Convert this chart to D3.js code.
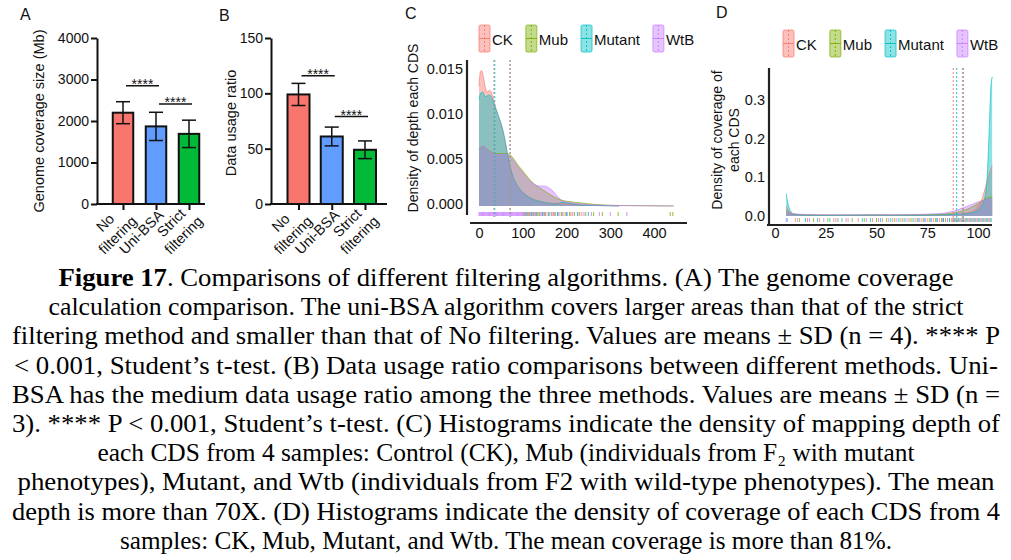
<!DOCTYPE html>
<html><head><meta charset="utf-8">
<script src="https://cdn.jsdelivr.net/npm/d3@7"></script>
<style>body{margin:0;background:#fff}svg{display:block}</style>
</head><body>
<svg id="fig" width="1011" height="560"></svg>
<script>
// ---------------- DATA ----------------
const methods = ["No filtering", "Uni-BSA", "Strict filtering"];
const methodLines = [["No", "filtering"], ["Uni-BSA"], ["Strict", "filtering"]];
const coverageMean = [2200, 1870, 1690];
const coverageSD = [265, 340, 330];
const coverageTicks = [0, 1000, 2000, 3000, 4000];
const coverageSig = [2850, 2410];          // bracket heights (Mb)
const usageMean = [99, 61, 49];
const usageSD = [10, 8.5, 8];
const usageTicks = [0, 50, 100, 150];
const usageSig = [116, 79];
const sigPairs = [[0, 1], [1, 2]];
const sigLabel = "****";
const barColors = ["#F8766D", "#619CFF", "#00BA38"];

const samples = ["CK", "Mub", "Mutant", "WtB"];
const sampleColors = ["#F8766D", "#7CAE00", "#00BFC4", "#C77CFF"];

// Panel C: density of depth (x = depth, y = density)
const depthCK = [[0,0.0133],[3,0.0148],[6,0.015],[10,0.0143],[14,0.0132],[19,0.0126],[24,0.0128],[28,0.0126],[33,0.0118],[38,0.0109],[44,0.0100],[50,0.0091],[56,0.0080],[62,0.0065],[68,0.0049],[75,0.0036],[85,0.0024],[95,0.0017],[110,0.0011],[125,0.0007],[140,0.0005],[160,0.0003],[180,0.0003],[200,0.0002],[230,0.0001],[270,0.00005],[320,0]];
const depthMub = [[0,0.0062],[5,0.0065],[10,0.0066],[16,0.0064],[24,0.0061],[32,0.0059],[42,0.0058],[52,0.0058],[62,0.0058],[70,0.0057],[78,0.0053],[88,0.0046],[98,0.0040],[108,0.0034],[118,0.0028],[130,0.0023],[142,0.0019],[155,0.0015],[168,0.0011],[180,0.0008],[192,0.0006],[205,0.0005],[220,0.0004],[240,0.0003],[260,0.0002],[290,0.0001],[330,0.00005],[400,0.00002],[445,0]];
const depthMutant = [[0,0.0118],[4,0.0125],[9,0.0126],[14,0.0121],[19,0.0122],[24,0.0123],[28,0.0121],[33,0.0115],[38,0.0108],[44,0.0100],[50,0.0092],[56,0.0081],[62,0.0066],[68,0.0050],[75,0.0037],[85,0.0025],[95,0.0018],[110,0.0011],[125,0.0007],[140,0.0005],[160,0.0003],[175,0.0002],[190,0.0004],[205,0.0003],[230,0.0001],[270,0.00005],[320,0]];
const depthWtB = [[0,0.0063],[5,0.0066],[10,0.0066],[16,0.0064],[24,0.0061],[32,0.0058],[42,0.0057],[52,0.0057],[62,0.0057],[70,0.0055],[78,0.0051],[88,0.0044],[98,0.0038],[108,0.0032],[118,0.0027],[130,0.0023],[140,0.0022],[150,0.0022],[160,0.0020],[170,0.0016],[180,0.0010],[190,0.0006],[205,0.0004],[220,0.0003],[240,0.0002],[270,0.0001],[320,0.00005],[400,0.00002],[445,0]];
const depthMeans = [34, 71.5, 36, 70.5];
const depthTicksX = [0, 100, 200, 300, 400];
const depthTicksY = [0, 0.005, 0.010, 0.015];
const depthRugCK = [105,115,125,135,150,170,190,210,235];
const depthRugMub = [101,105,109,114,119,125,131,138,144,151,158,165,172,180,188,197,207,218,230,244,262,282,318,437,443];
const depthRugMutant = [110,120,130,145,160,180,200,225,250];
const depthRugWtB = [0,2,4,6,8,10,12,14,16,18,20,22,24,26,28,30,32,34,36,38,40,42,44,46,48,50,52,54,56,58,60,62,64,66,68,70,72,74,76,78,80,82,84,86,88,90,92,94,96,98,100,103,107,112,117,122,128,134,141,147,153,160,167,175,183,192,202,214,226,240,257,275,300,338];

// Panel D: density of coverage (x = coverage %, y = density)
const covCK = [[5.5,0.025],[7,0.012],[9,0.005],[12,0.003],[20,0.002],[30,0.002],[40,0.002],[50,0.003],[60,0.002],[70,0.002],[80,0.003],[88,0.004],[94,0.007],[98,0.013],[100,0.025],[102,0.045],[104,0.08],[105.5,0.11],[107,0.13]];
const covMub = [[5.5,0.015],[7,0.008],[9,0.005],[15,0.003],[30,0.002],[50,0.002],[70,0.003],[80,0.004],[88,0.008],[94,0.016],[98,0.026],[101,0.035],[104,0.045],[107,0.05]];
const covMutant = [[5.5,0.058],[6.5,0.03],[8,0.01],[10,0.004],[15,0.002],[25,0.0015],[35,0.002],[45,0.0025],[55,0.002],[65,0.002],[75,0.002],[82,0.003],[88,0.004],[94,0.006],[98,0.01],[101,0.02],[103,0.04],[104.5,0.1],[105.5,0.22],[106.3,0.33],[107,0.36]];
const covWtB = [[5.5,0.012],[7,0.008],[9,0.006],[15,0.004],[25,0.003],[40,0.003],[55,0.003],[70,0.004],[80,0.006],[86,0.01],[90,0.016],[94,0.024],[98,0.032],[101,0.038],[104,0.042],[107,0.044]];
const covMeans = [87.8, 92.8, 89.5, 92.3];
const covTicksX = [0, 25, 50, 75, 100];
const covTicksY = [0, 0.1, 0.2, 0.3];
const covRugCK = [10,16,22,29,35,41,48,53,58,62,66,69,72,75,78,81,83,85,87,89,91,93,95,97,99,101,103,105];
const covRugMub = [12,19,26,31,38,44,50,55,59,63,67,70,73,76,79,82,84,86,88,90,92,94,96,98,100,102,104,106];
const covRugMutant = [6,15,21,27,33,43,47,52,57,61,64,68,71,74,77,80,83,86,88.5,90.5,92.5,94.5,96.5,98.5,100.5,102.5,104.5,106.5];
const covRugWtB = [5.5,11,17,24,30,36,45,51,56,60,65,70.5,73.5,76.5,79.5,82.5,85,87.5,89.5,91.5,93.5,95.5,97.5,99.5,101.5,103.5,105.5];

const captionLines = [
  "Figure 17. Comparisons of different filtering algorithms. (A) The genome coverage",
  "calculation comparison. The uni-BSA algorithm covers larger areas than that of the strict",
  "filtering method and smaller than that of No filtering. Values are means ± SD (n = 4). **** P",
  "< 0.001, Student’s t-test. (B) Data usage ratio comparisons between different methods. Uni-",
  "BSA has the medium data usage ratio among the three methods. Values are means ± SD (n =",
  "3). **** P < 0.001, Student’s t-test. (C) Histograms indicate the density of mapping depth of",
  "each CDS from 4 samples: Control (CK), Mub (individuals from F₂ with mutant",
  "phenotypes), Mutant, and Wtb (individuals from F2 with wild-type phenotypes). The mean",
  "depth is more than 70X. (D) Histograms indicate the density of coverage of each CDS from 4",
  "samples: CK, Mub, Mutant, and Wtb. The mean coverage is more than 81%."
];
const captionBold = "Figure 17";
const captionWidths = [895, 915, 988, 984, 988, 988, 817, 977, 988, 772];

// ---------------- DRAWING ----------------
const svg = d3.select("#fig");
const SANS = '"Liberation Sans", Arial, Helvetica, sans-serif';
const SERIF = '"Liberation Serif", "Times New Roman", serif';
const INK = "#111";

function panelLetter(t, x, y) {
  svg.append("text").attr("x", x).attr("y", y).attr("font-family", SANS)
    .attr("font-size", 16).attr("fill", INK).text(t);
}

function barPanel(cfg) {
  const g = svg.append("g");
  const y = d3.scaleLinear().domain([0, cfg.ticks[cfg.ticks.length - 1]]).range([cfg.yBottom, cfg.yTop]);
  const x = d3.scalePoint().domain(methods).range(cfg.xRange);

  g.selectAll("rect.bar").data(methods).join("rect")
    .attr("x", m => x(m) - cfg.barW / 2)
    .attr("y", (m, i) => y(cfg.mean[i]))
    .attr("width", cfg.barW)
    .attr("height", (m, i) => y(0) - y(cfg.mean[i]))
    .attr("fill", (m, i) => barColors[i])
    .attr("stroke", INK).attr("stroke-width", 2);

  methods.forEach((m, i) => {
    const cx = x(m), lo = y(cfg.mean[i] - cfg.sd[i]), hi = y(cfg.mean[i] + cfg.sd[i]);
    g.append("line").attr("x1", cx).attr("x2", cx).attr("y1", lo).attr("y2", hi)
      .attr("stroke", INK).attr("stroke-width", 1.5);
    [lo, hi].forEach(v => g.append("line").attr("x1", cx - 7).attr("x2", cx + 7)
      .attr("y1", v).attr("y2", v).attr("stroke", INK).attr("stroke-width", 1.5));
  });

  const ya = g.append("g").attr("transform", `translate(${cfg.axisX},0)`)
    .call(d3.axisLeft(y).tickValues(cfg.ticks).tickSize(6).tickSizeOuter(0).tickPadding(2)
      .tickFormat(d3.format("d")));
  ya.select(".domain").attr("stroke", INK).attr("stroke-width", 2);
  ya.selectAll(".tick line").attr("stroke", INK).attr("stroke-width", 2);
  ya.selectAll(".tick text").attr("font-family", SANS).attr("font-size", 14).attr("fill", INK);

  const xa = g.append("g").attr("transform", `translate(0,${cfg.yBottom})`)
    .call(d3.axisBottom(x).tickSize(6).tickSizeOuter(0).tickFormat(""));
  xa.select(".domain").remove();
  xa.selectAll(".tick line").attr("stroke", INK).attr("stroke-width", 2);
  g.append("line").attr("x1", cfg.axisX - 1).attr("x2", cfg.xEnd)
    .attr("y1", cfg.yBottom).attr("y2", cfg.yBottom).attr("stroke", INK).attr("stroke-width", 2);

  methods.forEach((m, i) => {
    const lg = g.append("g").attr("transform", `translate(${x(m)},${cfg.yBottom + 2}) rotate(-45)`);
    const lines = methodLines[i];
    const ts = lines.map((s, k) => lg.append("text").attr("font-family", SANS)
      .attr("font-size", 14.5).attr("fill", INK).attr("text-anchor", "middle")
      .attr("y", 8 + (k - (lines.length - 1) / 2) * 17.5 + 5).text(s));
    const w = d3.max(ts, t => t.node().getComputedTextLength());
    ts.forEach(t => t.attr("x", -w / 2 - 1));
  });

  sigPairs.forEach(([a, b], k) => {
    const yy = y(cfg.sig[k]);
    const x1 = x(methods[a]) + 3, x2 = x(methods[b]) + 3;
    g.append("line").attr("x1", x1).attr("x2", x2).attr("y1", yy).attr("y2", yy)
      .attr("stroke", INK).attr("stroke-width", 1.5);
    g.append("text").attr("x", (x1 + x2) / 2).attr("y", yy + 3).attr("text-anchor", "middle")
      .attr("font-family", SANS).attr("font-size", 14).attr("fill", INK).text(sigLabel);
  });

  g.append("text").attr("transform", `translate(${cfg.labelX},${cfg.labelY}) rotate(-90)`)
    .attr("text-anchor", "middle").attr("font-family", SANS).attr("font-size", 14.5)
    .attr("fill", INK).text(cfg.label);
}

barPanel({ mean: coverageMean, sd: coverageSD, ticks: coverageTicks, sig: coverageSig,
  axisX: 97, yTop: 38, yBottom: 204, xRange: [123, 189], xEnd: 205, barW: 20.5,
  label: "Genome coverage size (Mb)", labelX: 44, labelY: 121 });
barPanel({ mean: usageMean, sd: usageSD, ticks: usageTicks, sig: usageSig,
  axisX: 271, yTop: 38, yBottom: 204, xRange: [298.5, 365], xEnd: 387, barW: 22,
  label: "Data usage ratio", labelX: 235.5, labelY: 123 });

function densityPanel(cfg) {
  const g = svg.append("g");
  const x = d3.scaleLinear().domain(cfg.xDomain).range(cfg.xRange);
  const y = d3.scaleLinear().domain(cfg.yDomain).range(cfg.yRange);
  const area = d3.area().x(d => x(d[0])).y0(y(0)).y1(d => y(d[1])).curve(d3.curveMonotoneX);
  const line = d3.line().x(d => x(d[0])).y(d => y(d[1])).curve(d3.curveMonotoneX);

  cfg.series.forEach((s, i) => {
    g.append("path").attr("d", area(s)).attr("fill", sampleColors[i]).attr("fill-opacity", 0.45);
  });
  cfg.series.forEach((s, i) => {
    g.append("path").attr("d", line(s)).attr("fill", "none").attr("stroke", sampleColors[i])
      .attr("stroke-width", 0.8).attr("stroke-opacity", 0.8);
  });
  cfg.rugs.forEach((r, i) => {
    g.selectAll(null).data(r).join("line")
      .attr("x1", d => x(d)).attr("x2", d => x(d))
      .attr("y1", cfg.rugY[0]).attr("y2", cfg.rugY[1])
      .attr("stroke", sampleColors[i]).attr("stroke-width", cfg.rugW).attr("stroke-opacity", 0.75);
  });
  cfg.means.forEach((m, i) => {
    g.append("line").attr("x1", x(m)).attr("x2", x(m)).attr("y1", cfg.vTop).attr("y2", cfg.vBottom)
      .attr("stroke", sampleColors[i]).attr("stroke-width", 1).attr("stroke-dasharray", "2,2")
      .attr("stroke-opacity", 0.9);
  });
  const ya = g.append("g").attr("transform", `translate(${cfg.yAxisX},0)`)
    .call(d3.axisLeft(y).tickValues(cfg.yTicks).tickSize(0).tickPadding(4).tickFormat(d3.format(cfg.yFmt)));
  ya.select(".domain").remove();
  ya.selectAll(".tick text").attr("font-family", SANS).attr("font-size", 14.5).attr("fill", INK)
    .attr("dy", cfg.yLabelDy);
  g.append("line").attr("x1", cfg.yAxisX).attr("x2", cfg.yAxisX).attr("y1", cfg.yAxisSpan[0])
    .attr("y2", cfg.yAxisSpan[1]).attr("stroke", "#222").attr("stroke-width", 2.2);

  const xa = g.append("g").attr("transform", `translate(0,${cfg.xAxisY})`)
    .call(d3.axisBottom(x).tickValues(cfg.xTicks).tickSize(0).tickPadding(cfg.xPad).tickFormat(d3.format("d")));
  xa.select(".domain").remove();
  xa.selectAll(".tick text").attr("font-family", SANS).attr("font-size", 14.5).attr("fill", INK);
  g.append("line").attr("x1", cfg.xAxisSpan[0]).attr("x2", cfg.xAxisSpan[1]).attr("y1", cfg.xAxisY)
    .attr("y2", cfg.xAxisY).attr("stroke", "#222").attr("stroke-width", 2.2);

  const yl = g.append("text").attr("transform", `translate(0,${cfg.labelY}) rotate(-90)`)
    .attr("text-anchor", "middle").attr("font-family", SANS).attr("font-size", 14).attr("fill", INK);
  cfg.label.forEach((s, k) => yl.append("tspan").attr("x", 0).attr("y", cfg.labelX[k]).text(s));

  let lx = cfg.legendX;
  samples.forEach((s, i) => {
    const c = sampleColors[i];
    const [t0, t1] = cfg.legendY;
    g.append("rect").attr("x", lx).attr("y", t0).attr("width", 11).attr("height", t1 - t0)
      .attr("rx", 1.5).attr("fill", c).attr("fill-opacity", 0.45)
      .attr("stroke", c).attr("stroke-opacity", 0.7).attr("stroke-width", 1);
    g.append("line").attr("x1", lx + 5.5).attr("x2", lx + 5.5).attr("y1", t0).attr("y2", t1)
      .attr("stroke", c).attr("stroke-width", 0.9).attr("stroke-dasharray", "2,2");
    g.append("line").attr("x1", lx).attr("x2", lx + 11).attr("y1", (t0 + t1) / 2).attr("y2", (t0 + t1) / 2)
      .attr("stroke", c).attr("stroke-width", 0.9);
    const t = g.append("text").attr("x", lx + 13).attr("y", cfg.legendBase).attr("font-family", SANS)
      .attr("font-size", 15).attr("fill", INK).text(s);
    lx += 13 + t.node().getComputedTextLength() + 13;
  });
}

densityPanel({
  series: [depthCK, depthMub, depthMutant, depthWtB],
  rugs: [depthRugCK, depthRugMub, depthRugMutant, depthRugWtB],
  means: depthMeans, xTicks: depthTicksX, yTicks: depthTicksY, yFmt: ".3f",
  xDomain: [0, 400], xRange: [479, 654], yDomain: [0, 0.015], yRange: [206, 70.5],
  rugY: [212, 216], rugW: 1.1, vTop: 60, vBottom: 217,
  yAxisX: 467, yAxisSpan: [60, 215], yLabelDy: "0.2em",
  xAxisY: 223, xAxisSpan: [470, 687], xPad: 5,
  label: ["Density of depth each CDS"], labelX: [418], labelY: 128,
  legendX: 479, legendY: [25, 52], legendBase: 45
});

densityPanel({
  series: [covCK, covMub, covMutant, covWtB],
  rugs: [covRugCK, covRugMub, covRugMutant, covRugWtB],
  means: covMeans, xTicks: covTicksX, yTicks: covTicksY, yFmt: ".1f",
  xDomain: [0, 100], xRange: [775, 978], yDomain: [0, 0.3], yRange: [216, 100],
  rugY: [218, 222], rugW: 1, vTop: 68, vBottom: 223,
  yAxisX: 769, yAxisSpan: [68, 224], yLabelDy: "0.32em",
  xAxisY: 225, xAxisSpan: [767, 992], xPad: 3,
  label: ["Density of coverage of", "each CDS"], labelX: [722, 739], labelY: 140,
  legendX: 783, legendY: [30, 57], legendBase: 50
});

panelLetter("A", 20, 20);
panelLetter("B", 219, 21);
panelLetter("C", 405, 19);
panelLetter("D", 716, 18);

// caption
captionLines.forEach((line, i) => {
  const t = svg.append("text").attr("x", 506).attr("y", 286 + i * 29.2)
    .attr("text-anchor", "middle").attr("font-family", SERIF).attr("font-size", 26).attr("fill", "#000")
    .attr("textLength", captionWidths[i]).attr("lengthAdjust", "spacingAndGlyphs");
  let rest = line;
  if (rest.startsWith(captionBold)) {
    t.append("tspan").attr("font-weight", "bold").text(captionBold);
    rest = rest.slice(captionBold.length);
  }
  t.append("tspan").text(rest);
});
</script>
</body></html>
